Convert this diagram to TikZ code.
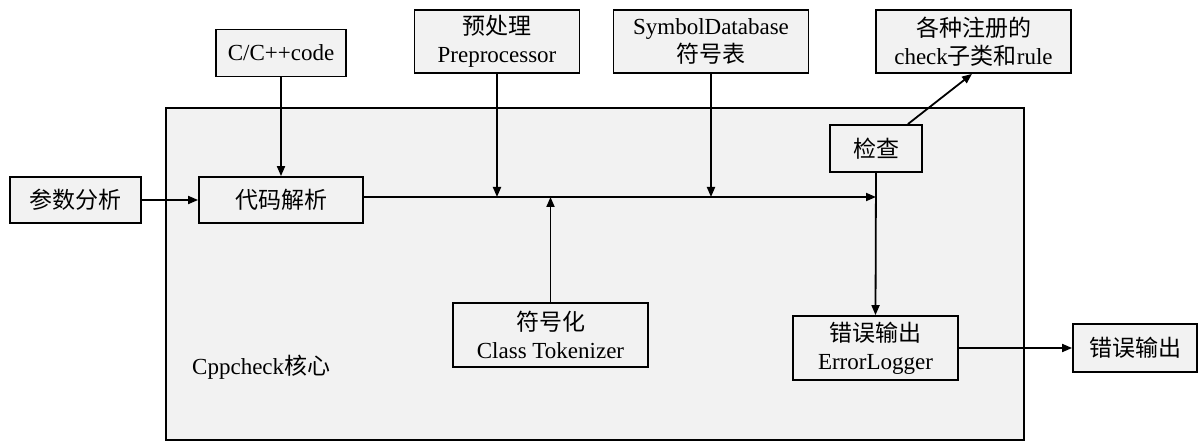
\documentclass[tikz,border=0pt]{standalone}
\usepackage{fontspec}
\setmainfont{Liberation Serif}
\newfontfamily\cjk{Noto Sans CJK SC}
\usetikzlibrary{arrows.meta,calc}
\definecolor{boxgray}{HTML}{F2F2F2}
\begin{document}
\begin{tikzpicture}[x=1pt,y=-1pt,
  box/.style={draw=black,fill=boxgray,line width=1.8pt,inner sep=0pt,align=center,
    font=\fontsize{23}{28}\selectfont},
  arr/.style={line width=1.8pt,-{Triangle[length=10pt,width=8pt]}}]
\useasboundingbox (0,0) rectangle (1203,443);
\node[draw=black,fill=boxgray,line width=1.8pt,minimum width=858pt,minimum height=332pt,inner sep=0pt] (core) at (595,274) {};
\node[font=\fontsize{23}{28}\selectfont,anchor=west,inner sep=0pt] (corelbl) at (192,367) {Cppcheck{\cjk 核心}};
\node[box,minimum width=131pt,minimum height=46pt] (param) at (75.5,200) {{\cjk 参数分析}};
\node[box,minimum width=164pt,minimum height=46pt] (parse) at (281,200) {{\cjk 代码解析}};
\node[box,minimum width=130pt,minimum height=47pt] (code) at (281,53) {C/C++code};
\node[box,minimum width=165pt,minimum height=63pt] (pre) at (497,41.5) {{\cjk 预处理}\\Preprocessor};
\node[box,minimum width=195pt,minimum height=63pt] (sym) at (711,41.5) {SymbolDatabase\\{\cjk 符号表}};
\node[box,minimum width=195pt,minimum height=63pt] (reg) at (973.5,41.5) {{\cjk 各种注册的}\\check{\cjk 子类和}rule};
\node[box,minimum width=92pt,minimum height=47pt] (check) at (876,148.5) {{\cjk 检查}};
\node[box,minimum width=195pt,minimum height=64pt] (tok) at (550.5,335) {{\cjk 符号化}\\Class Tokenizer};
\node[box,minimum width=165pt,minimum height=64pt] (err) at (875.5,348) {{\cjk 错误输出}\\ErrorLogger};
\node[box,minimum width=124pt,minimum height=48pt] (out) at (1135,348) {{\cjk 错误输出}};
\coordinate (J) at (876,197);
\coordinate (Jpre) at (497,197);
\coordinate (Jsym) at (711,197);
\coordinate (Jtok) at (550.5,197);
\draw[arr] (param) -- (parse);
\draw[arr] (code) -- (parse);
\draw[arr] (parse.east |- J) -- (J);
\draw[arr] (pre.south) -- (Jpre);
\draw[arr] (sym.south) -- (Jsym);
\draw[arr] (tok.north) -- (Jtok);
\draw[arr] (check.south) -- (err.north);
\draw[arr] ([xshift=-15pt]check.north east) -- ([xshift=-1.5pt]reg.south);
\draw[arr] (err.east) -- (out.west);
\end{tikzpicture}
\end{document}
